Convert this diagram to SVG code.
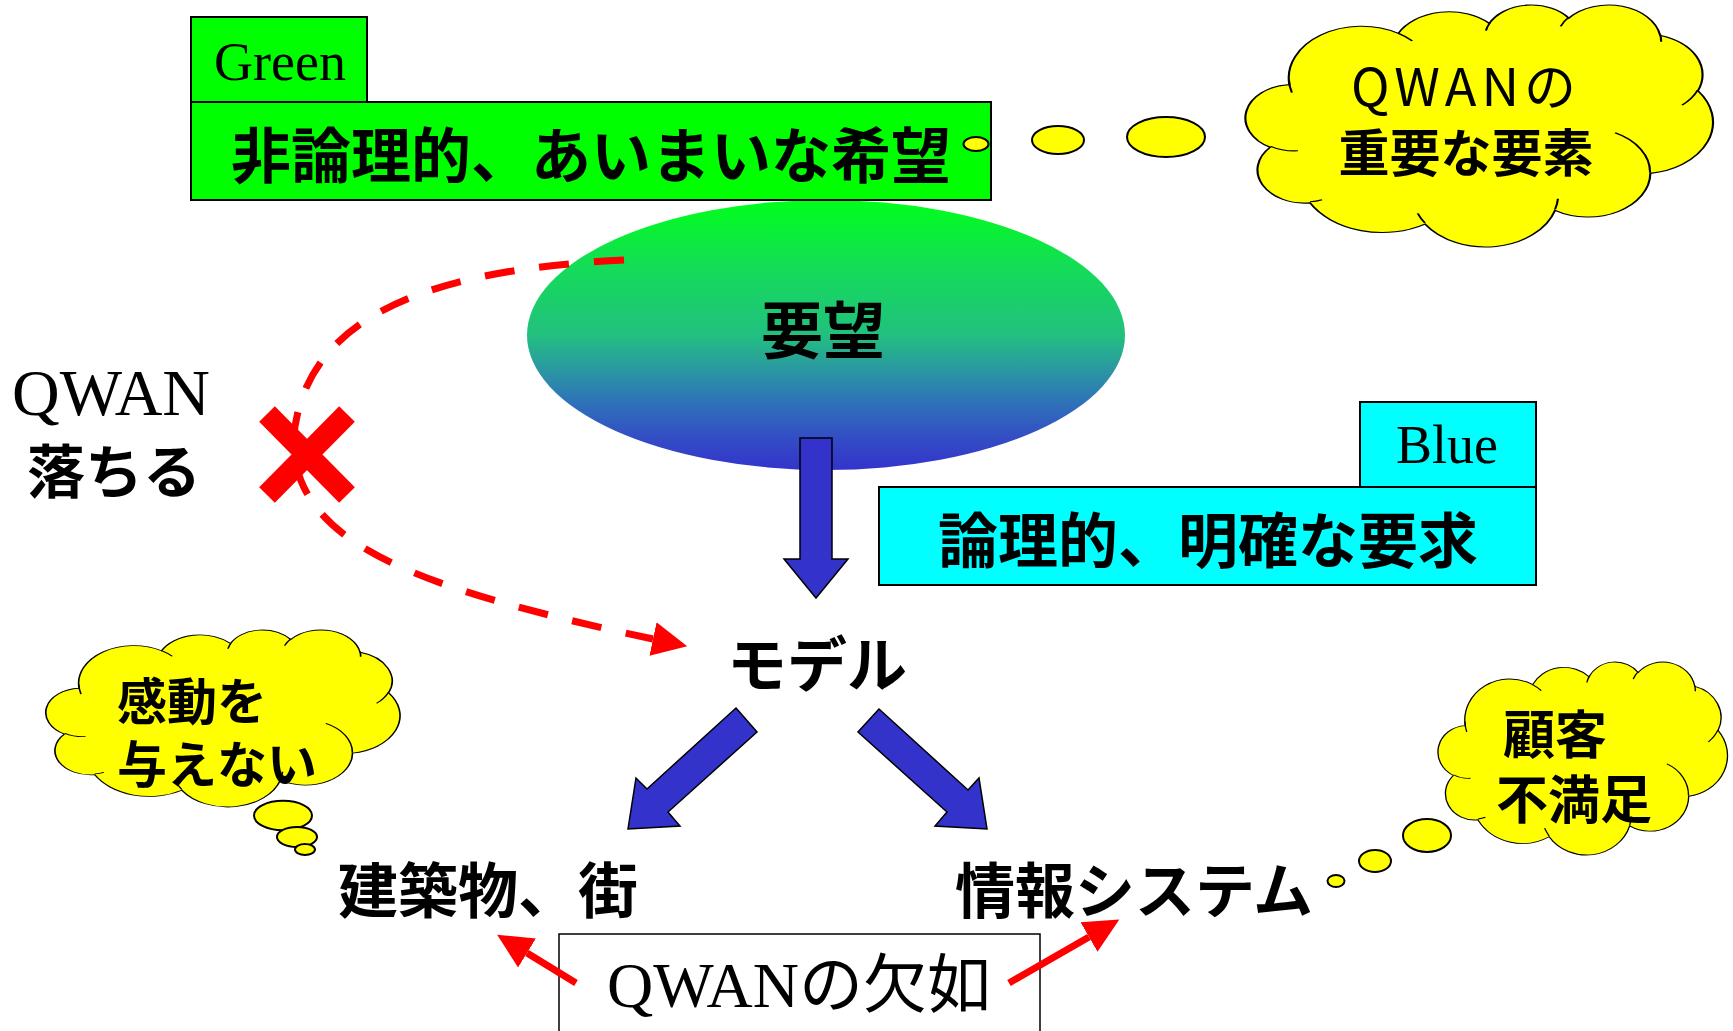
<svg xmlns="http://www.w3.org/2000/svg" width="1733" height="1031" viewBox="0 0 1733 1031">
<style>
.box{stroke:#000;stroke-width:2}
.bub{fill:#FFFF00;stroke:#000;stroke-width:2}
.cloud{fill:#FFFF00;stroke:#000;stroke-width:2}
.crease{fill:none;stroke:#000;stroke-width:2}
.jp{font-family:'Noto Sans CJK JP',sans-serif;font-weight:700;fill:#000}
.jpn{font-family:'Noto Sans CJK JP',sans-serif;font-weight:400;fill:#000}
.ser{font-family:'Liberation Serif','Noto Sans CJK JP',serif;fill:#000}
.barrow{fill:#3333CC;stroke:#000;stroke-width:1.5}
.red{fill:none;stroke:#FF0000;stroke-width:7}
</style>
<defs>
<linearGradient id="gr" x1="0" y1="0" x2="0" y2="1">
<stop offset="0" stop-color="#00FF1A"/>
<stop offset="0.25" stop-color="#14DC58"/>
<stop offset="0.5" stop-color="#22C07F"/>
<stop offset="0.62" stop-color="#2A9AA0"/>
<stop offset="0.75" stop-color="#2E72B8"/>
<stop offset="0.87" stop-color="#3350C4"/>
<stop offset="1" stop-color="#3333CC"/>
</linearGradient>
<marker id="rh" markerUnits="userSpaceOnUse" markerWidth="36" markerHeight="36" refX="0" refY="17" orient="auto" viewBox="0 0 36 34">
<path d="M0,0 L35,17 L0,34 Z" fill="#FF0000"/>
</marker>
<path id="cl" d="M39,143.7 A67.53 91.9 0 0 1 140.06,52.03 A53.33 72.67 0 0 1 224.57,34.34 A43.65 59.45 0 0 1 298.34,24.83 A48.57 65.95 0 0 1 383.2,55.77 A53.33 72.73 0 0 1 418.2,154.61 A67.75 92.2 0 0 1 374.05,302.02 A57.85 78.67 0 0 1 285.56,368.12 A67.52 92.15 0 0 1 164.82,392.65 A77.2 105.43 0 0 1 58.04,354.7 A43.6 59.18 0 0 1 21.12,255.49 A43.45 59.45 0 0 1 39,143.7 Z"/>
<path id="cr" d="M46.93,261.77 A43.45 59.45 0 0 1 21.59,253.79 M69.28,348.99 A43.6 59.18 0 0 1 58.19,352.81 M164.78,390.9 A67.52 92.15 0 0 1 158.1,373.49 M288.27,347.51 A67.52 92.15 0 0 1 285.6,366.6 M341.29,229.54 A57.85 78.67 0 0 1 373.81,300.9 M417.98,153.54 A53.33 72.73 0 0 1 403.49,180.31 M383.24,54.26 A48.57 65.95 0 0 1 384,66.9 M290.78,39.52 A48.57 65.95 0 0 1 298.2,23.4 M221.41,47.2 A43.65 59.45 0 0 1 225,33.31 M140,51.92 A67.53 91.9 0 0 1 153,65.4 M41.27,157.89 A67.53 91.9 0 0 1 38.49,134.77"/>
</defs>
<rect width="1733" height="1031" fill="#fff"/>

<g id="youbou">
<ellipse cx="826" cy="335" rx="299" ry="135" fill="url(#gr)"/>
<text class="jp" x="823" y="354" font-size="62" text-anchor="middle">要望</text>
</g>

<g id="green-tab">
<rect class="box" x="191" y="17" width="176" height="85" fill="#00FF00"/>
<text class="ser" x="280" y="80" font-size="54" text-anchor="middle">Green</text>
</g>
<g id="green-box">
<rect class="box" x="191" y="102" width="800" height="98" fill="#00FF00"/>
<text class="jp" x="591" y="178" font-size="60" text-anchor="middle">非論理的、あいまいな希望</text>
</g>

<g id="cloud-qwan">
<ellipse class="bub" cx="976" cy="144" rx="12.5" ry="7"/>
<ellipse class="bub" cx="1058" cy="140" rx="26" ry="14"/>
<ellipse class="bub" cx="1166" cy="137" rx="39" ry="20"/>
<g transform="translate(1247.4,4.2) scale(1.0773,0.56)">
<use href="#cl" class="cloud" vector-effect="non-scaling-stroke"/>
<use href="#cr" class="crease" vector-effect="non-scaling-stroke"/>
</g>
<text class="jpn" x="1466" y="106" font-size="52" letter-spacing="5" text-anchor="middle">QWANの</text>
<text class="jp" x="1466" y="172" font-size="51" text-anchor="middle">重要な要素</text>
</g>

<g id="blue-tab">
<rect class="box" x="1360" y="402" width="176" height="85" fill="#00FFFF"/>
<text class="ser" x="1447" y="463" font-size="54" text-anchor="middle">Blue</text>
</g>
<g id="blue-box">
<rect class="box" x="879" y="487" width="657" height="98" fill="#00FFFF"/>
<text class="jp" x="1208" y="563" font-size="60" text-anchor="middle">論理的、明確な要求</text>
</g>

<g id="qwan-drop">
<text class="ser" x="12" y="415" font-size="66">QWAN</text>
<text class="jp" x="27" y="493" font-size="58">落ちる</text>
</g>

<g id="cross">
<path d="M267,414 L347,495 M347,414 L267,495" stroke="#FF0000" stroke-width="22" fill="none"/>
</g>

<g id="model">
<text class="jp" x="817" y="687" font-size="60" text-anchor="middle">モデル</text>
</g>

<g id="building">
<text class="jp" x="488" y="913" font-size="60" text-anchor="middle">建築物、街</text>
</g>

<g id="infosys">
<text class="jp" x="1134" y="913" font-size="60" text-anchor="middle">情報システム</text>
</g>

<g id="qwan-lack">
<rect x="559" y="934" width="481" height="110" fill="#fff" stroke="#000" stroke-width="1.5"/>
<text class="ser" x="607" y="1007" font-size="64">QWANの欠如</text>
</g>

<g id="cloud-kandou">
<g transform="translate(47.3,629.4) scale(0.8161,0.4096)">
<use href="#cl" class="cloud" vector-effect="non-scaling-stroke"/>
<use href="#cr" class="crease" vector-effect="non-scaling-stroke"/>
</g>
<ellipse class="bub" cx="283" cy="815.5" rx="29" ry="14.7"/>
<ellipse class="bub" cx="297" cy="837" rx="20" ry="10"/>
<ellipse class="bub" cx="305" cy="849.5" rx="10" ry="5.5"/>
<text class="jp" x="117" y="720" font-size="50">感動を</text>
<text class="jp" x="117" y="783" font-size="50">与えない</text>
</g>

<g id="cloud-kokyaku">
<g transform="translate(1439.2,661.4) scale(0.667,0.4466)">
<use href="#cl" class="cloud" vector-effect="non-scaling-stroke"/>
<use href="#cr" class="crease" vector-effect="non-scaling-stroke"/>
</g>
<ellipse class="bub" cx="1427" cy="835.5" rx="24" ry="16.5"/>
<ellipse class="bub" cx="1375" cy="861" rx="16" ry="11"/>
<ellipse class="bub" cx="1336" cy="881" rx="8.5" ry="6"/>
<text class="jp" x="1503" y="754" font-size="52">顧客</text>
<text class="jp" x="1496" y="819" font-size="52">不満足</text>
</g>

<g id="connectors">
<polygon class="barrow" points="800,438 832,438 832,559 848,559 816,598 784,559 800,559"/>
<polygon class="barrow" points="736,708 757,732 668,812 680,826 628,829 636,778 647,789"/>
<polygon class="barrow" points="879,709 858,732 947,812 935,826 987,829 979,778 968,790"/>
<path class="red" stroke-dasharray="30 25" d="M624,260 C420,270 300,320 293,445 C300,540 400,585 653,639" marker-end="url(#rh)"/>
<path class="red" d="M576,983 L527,953" marker-end="url(#rh)"/>
<path class="red" d="M1009,983 L1089,937" marker-end="url(#rh)"/>
</g>
</svg>
